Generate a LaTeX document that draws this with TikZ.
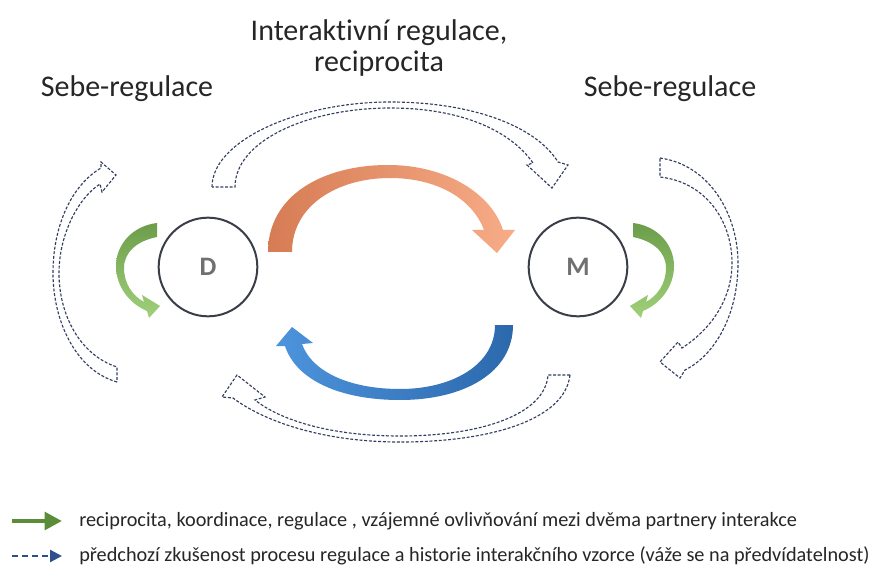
\documentclass[tikz,border=0pt]{standalone}
\usepackage{fontspec}
\setmainfont{Carlito}[Ligatures={NoCommon,NoRare,NoContextual}]
\usetikzlibrary{arrows.meta}

\definecolor{textgray}{RGB}{38,38,38}
\definecolor{circlegray}{RGB}{58,62,72}
\definecolor{lettergray}{RGB}{112,112,112}
\definecolor{dashblue}{RGB}{50,62,96}
\definecolor{legendblue}{RGB}{47,78,140}
\definecolor{greenA}{RGB}{108,157,74}
\definecolor{greenB}{RGB}{160,208,122}
\definecolor{legendgreen}{RGB}{91,140,58}
\definecolor{orangeA}{RGB}{214,124,84}
\definecolor{orangeB}{RGB}{247,172,135}
\definecolor{blueA}{RGB}{77,148,220}
\definecolor{blueB}{RGB}{44,104,172}

\begin{document}
\begin{tikzpicture}[x=0.75pt,y=0.75pt,yscale=-1,xscale=1,
	partner/.style={circle,draw=circlegray,line width=1.5pt,minimum size=74pt,inner sep=0pt,text=lettergray,font=\fontsize{20}{20}\selectfont\bfseries},
	history/.style={draw=dashblue,line width=0.85pt,dash pattern={on 2.2pt off 1.3pt},fill=white},
	selfreg/.style={top color=greenA,bottom color=greenB,draw=none},
	heading/.style={anchor=base,inner sep=0.75pt,text=textgray,font=\fontsize{22.5}{27}\selectfont},
	legendtext/.style={anchor=west,inner sep=0.75pt,text=textgray,font=\fontsize{15.2}{18}\selectfont}]
	\path[fill=white] (0,0) rectangle (874,570);
	
	%Shape: Circle 
	\draw (208,267) node (D) [partner] {D};
	%Shape: Circle 
	\draw (578,267) node (M) [partner] {M};
	
	%Curved Arrow: D -> M
	\shade[left color=orangeA,right color=orangeB] (268,252) .. controls (268,196) and (322,165) .. (388,165) .. controls (448,165) and (492,195) .. (503,230) -- (515,230) -- (497,253) -- (472,230) -- (484,230) .. controls (472,198) and (436,178) .. (390,178) .. controls (338,178) and (292,205) .. (292,252) -- cycle;
	%Curved Arrow: M -> D
	\shade[left color=blueA,right color=blueB] (513,325) .. controls (513,372) and (465,400) .. (400,400) .. controls (340,400) and (296,380) .. (285,346) -- (276,346) -- (292,327) -- (313,343) -- (302,344) .. controls (312,372) and (350,389) .. (400,389) .. controls (452,389) and (495,365) .. (495,325) -- cycle;
	%Curved Arrow: D self
	\shade[selfreg] (157,223) .. controls (132,226) and (116,245) .. (116,266) .. controls (116,287) and (130,304) .. (147,311) -- (149,318) -- (160,306) -- (142,295) -- (144,302) .. controls (133,296) and (124,284) .. (124,268) .. controls (124,252) and (137,241) .. (157,237) -- cycle;
	%Curved Arrow: M self
	\shade[selfreg] (633,223) .. controls (658,226) and (674,245) .. (674,266) .. controls (674,287) and (660,304) .. (643,311) -- (641,318) -- (630,306) -- (648,295) -- (646,302) .. controls (657,296) and (666,284) .. (666,268) .. controls (666,252) and (653,241) .. (633,237) -- cycle;
	
	%Dashed Arrow: top
	\draw[history] (212,187) .. controls (212,140) and (300,102) .. (390,102) .. controls (470,102) and (535,125) .. (558,162) -- (568,165) -- (552,188) -- (527,165) -- (533,163) .. controls (510,130) and (460,108) .. (390,108) .. controls (310,108) and (235,140) .. (235,187) -- cycle;
	%Dashed Arrow: right
	\draw[history] (660,158) .. controls (710,165) and (738,215) .. (738,263) .. controls (738,315) and (715,355) .. (685,370) -- (680,378) -- (660,362) -- (678,342) -- (682,348) .. controls (710,330) and (732,300) .. (732,263) .. controls (732,220) and (705,182) .. (660,177) -- cycle;
	%Dashed Arrow: bottom
	\draw[history] (570,375) .. controls (565,420) and (490,442) .. (400,442) .. controls (320,442) and (262,420) .. (233,398) -- (222,397) -- (237,375) -- (265,397) -- (255,400) .. controls (280,420) and (330,436) .. (400,436) .. controls (480,436) and (545,415) .. (548,375) -- cycle;
	%Dashed Arrow: left
	\draw[history] (117,382) .. controls (75,370) and (53,320) .. (53,273) .. controls (53,225) and (72,185) .. (101,168) -- (101,162) -- (116,175) -- (102,192) -- (100,184) .. controls (78,198) and (59,235) .. (59,273) .. controls (59,315) and (80,355) .. (117,367) -- cycle;
	
	% Text Node
	\draw (379,41) node (inter) [heading] {Interaktivní regulace,};
	% Text Node
	\draw (379,72) node (recip) [heading] {reciprocita};
	% Text Node
	\draw (127,97) node (selfD) [heading] {Sebe-regulace};
	% Text Node
	\draw (670,97) node (selfM) [heading] {Sebe-regulace};
	
	%Legend
	\coordinate (g0) at (12,521);
	\coordinate (g1) at (62,521);
	\coordinate (b0) at (12,556);
	\coordinate (b1) at (62,556);
	\draw[draw=legendgreen,line width=3.6pt,-{Triangle[length=13pt,width=13pt]}] (g0) -- (g1);
	\draw[draw=legendblue,line width=1.8pt,dash pattern={on 4.5pt off 3pt},-{Triangle[length=9pt,width=9pt]}] (b0) -- (b1);
	% Text Node
	\draw (78,521) node (leg1) [legendtext] {reciprocita, koordinace, regulace , vzájemné ovlivňování mezi dvěma partnery interakce};
	% Text Node
	\draw (78,556) node (leg2) [legendtext] {předchozí zkušenost procesu regulace a historie interakčního vzorce (váže se na předvídatelnost)};
\end{tikzpicture}
\end{document}
